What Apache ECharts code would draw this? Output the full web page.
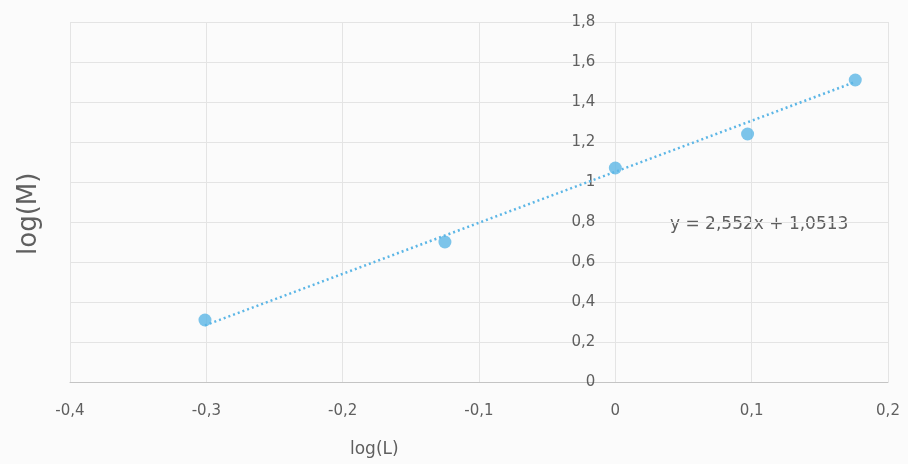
<!DOCTYPE html>
<html><head><meta charset="utf-8">
<script src="https://cdn.jsdelivr.net/npm/echarts@6/dist/echarts.min.js"></script>
<style>html,body{margin:0;padding:0;background:#fbfbfb}#c{width:908px;height:464px}</style>
</head><body><div id="c"></div>
<script>
var logL = [-0.301, -0.125, 0.0, 0.097, 0.176];
var logM = [0.31, 0.70, 1.07, 1.24, 1.51];
var slope = 2.552, intercept = 1.0513;
var trendX = [-0.301, 0.176];
var xTicks = [-0.4, -0.3, -0.2, -0.1, 0, 0.1, 0.2];
var yTicks = [0, 0.2, 0.4, 0.6, 0.8, 1, 1.2, 1.4, 1.6, 1.8];
var eqText = 'y = 2,552x + 1,0513';

var fmt = function (v) { return String(Math.round(v * 10) / 10).replace('.', ','); };
var pts = logL.map(function (x, i) { return [x, logM[i]]; });
var trend = trendX.map(function (x) { return [x, slope * x + intercept]; });
var blue = '#5cb6e6', txt = '#5f5f5f';
var FONT = '"DejaVu Sans", sans-serif';
var W = 908, gl = 70, gr = 20;
var xMin = xTicks[0], xMax = xTicks[xTicks.length - 1];
var zeroOffset = -(W - gl - gr) * (0 - xMin) / (xMax - xMin);

var chart = echarts.init(document.getElementById('c'));
chart.setOption({
  backgroundColor: '#fbfbfb',
  animation: false,
  textStyle: { fontFamily: FONT },
  grid: { left: gl, right: gr, top: 22, bottom: 82, containLabel: false },
  xAxis: {
    type: 'value', min: xMin, max: xMax, interval: 0.1,
    axisLine: { onZero: false, lineStyle: { color: '#c4c4c4', width: 1 } },
    axisTick: { show: false },
    axisLabel: { color: txt, fontSize: 15, margin: 22, formatter: fmt },
    splitLine: { show: true, lineStyle: { color: '#e4e4e4' } }
  },
  yAxis: {
    type: 'value', min: yTicks[0], max: yTicks[yTicks.length - 1], interval: 0.2,
    offset: zeroOffset,
    axisLine: { show: false },
    axisTick: { show: false },
    axisLabel: { color: txt, fontSize: 15, margin: 20, formatter: fmt },
    splitLine: { show: true, lineStyle: { color: '#e4e4e4' } }
  },
  graphic: [
    { type: 'text', left: 350, top: 441, style: { text: 'log(L)', fill: txt, fontSize: 17, fontFamily: FONT } },
    { type: 'text', x: 16, y: 255, rotation: Math.PI / 2, style: { text: 'log(M)', fill: txt, fontSize: 26, fontFamily: FONT } },
    { type: 'text', left: 670, top: 216, style: { text: eqText, fill: txt, fontSize: 17, fontFamily: FONT } }
  ],
  series: [
    { type: 'line', data: trend, symbol: 'none', lineStyle: { color: blue, width: 2.5, type: [2, 3] }, z: 2 },
    { type: 'scatter', data: pts, symbolSize: 13, itemStyle: { color: blue }, z: 3 }
  ]
});
</script></body></html>
